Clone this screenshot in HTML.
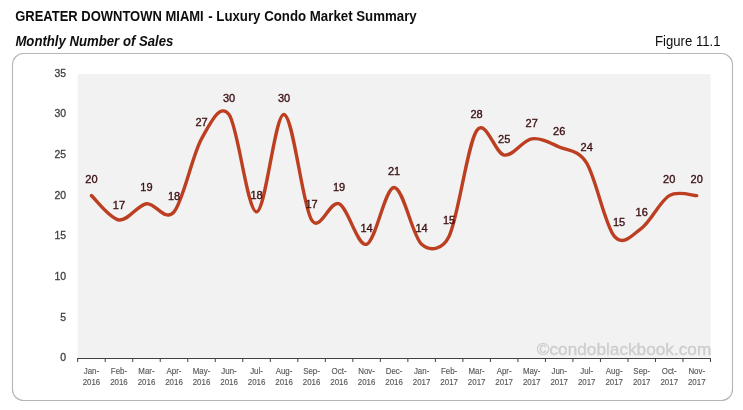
<!DOCTYPE html>
<html><head><meta charset="utf-8"><style>
html,body{margin:0;padding:0;background:#fff;}
body{width:743px;height:410px;position:relative;overflow:hidden;font-family:"Liberation Sans",sans-serif;}
</style></head><body>
<svg width="743" height="410" viewBox="0 0 743 410" style="position:absolute;left:0;top:0;will-change:transform">
<text x="15.2" y="20.9" font-family="Liberation Sans" font-size="14.1" font-weight="bold" fill="#0d0d0d" textLength="188.5" lengthAdjust="spacingAndGlyphs">GREATER DOWNTOWN MIAMI</text>
<text x="208.2" y="20.9" font-family="Liberation Sans" font-size="14.1" font-weight="bold" fill="#0d0d0d" textLength="208.5" lengthAdjust="spacingAndGlyphs">- Luxury Condo Market Summary</text>
<text x="15.4" y="45.9" font-family="Liberation Sans" font-size="14" font-weight="bold" font-style="italic" fill="#0d0d0d" textLength="158" lengthAdjust="spacingAndGlyphs">Monthly Number of Sales</text>
<text x="655" y="45.9" font-family="Liberation Sans" font-size="14.2" fill="#0d0d0d" textLength="65.5" lengthAdjust="spacingAndGlyphs">Figure 11.1</text>
<rect x="12.5" y="53.5" width="720" height="347" rx="11" ry="11" fill="#fff" stroke="#b6b6b6" stroke-width="1.15"/>
<rect x="77.70" y="74.00" width="632.80" height="283.80" fill="#f2f2f2"/>
<text x="536.8" y="355.3" font-family="Liberation Sans" font-size="17" fill="#cdcdcd" stroke="#cdcdcd" stroke-width="0.35" textLength="174.5" lengthAdjust="spacingAndGlyphs">©condoblackbook.com</text>
<line x1="77.20" y1="358.5" x2="711.00" y2="358.5" stroke="#404040" stroke-width="1.1"/>
<line x1="77.70" y1="358" x2="77.70" y2="362" stroke="#404040" stroke-width="1"/>
<line x1="105.21" y1="358" x2="105.21" y2="362" stroke="#404040" stroke-width="1"/>
<line x1="132.73" y1="358" x2="132.73" y2="362" stroke="#404040" stroke-width="1"/>
<line x1="160.24" y1="358" x2="160.24" y2="362" stroke="#404040" stroke-width="1"/>
<line x1="187.75" y1="358" x2="187.75" y2="362" stroke="#404040" stroke-width="1"/>
<line x1="215.27" y1="358" x2="215.27" y2="362" stroke="#404040" stroke-width="1"/>
<line x1="242.78" y1="358" x2="242.78" y2="362" stroke="#404040" stroke-width="1"/>
<line x1="270.29" y1="358" x2="270.29" y2="362" stroke="#404040" stroke-width="1"/>
<line x1="297.80" y1="358" x2="297.80" y2="362" stroke="#404040" stroke-width="1"/>
<line x1="325.32" y1="358" x2="325.32" y2="362" stroke="#404040" stroke-width="1"/>
<line x1="352.83" y1="358" x2="352.83" y2="362" stroke="#404040" stroke-width="1"/>
<line x1="380.34" y1="358" x2="380.34" y2="362" stroke="#404040" stroke-width="1"/>
<line x1="407.86" y1="358" x2="407.86" y2="362" stroke="#404040" stroke-width="1"/>
<line x1="435.37" y1="358" x2="435.37" y2="362" stroke="#404040" stroke-width="1"/>
<line x1="462.88" y1="358" x2="462.88" y2="362" stroke="#404040" stroke-width="1"/>
<line x1="490.40" y1="358" x2="490.40" y2="362" stroke="#404040" stroke-width="1"/>
<line x1="517.91" y1="358" x2="517.91" y2="362" stroke="#404040" stroke-width="1"/>
<line x1="545.42" y1="358" x2="545.42" y2="362" stroke="#404040" stroke-width="1"/>
<line x1="572.93" y1="358" x2="572.93" y2="362" stroke="#404040" stroke-width="1"/>
<line x1="600.45" y1="358" x2="600.45" y2="362" stroke="#404040" stroke-width="1"/>
<line x1="627.96" y1="358" x2="627.96" y2="362" stroke="#404040" stroke-width="1"/>
<line x1="655.47" y1="358" x2="655.47" y2="362" stroke="#404040" stroke-width="1"/>
<line x1="682.99" y1="358" x2="682.99" y2="362" stroke="#404040" stroke-width="1"/>
<line x1="710.50" y1="358" x2="710.50" y2="362" stroke="#404040" stroke-width="1"/>
<g transform="translate(66.1,0) scale(0.95,1)"><text x="0" y="361.50" text-anchor="end" font-family="Liberation Sans" font-size="11" fill="#404040" stroke="#404040" stroke-width="0.3">0</text></g>
<g transform="translate(66.1,0) scale(0.95,1)"><text x="0" y="320.81" text-anchor="end" font-family="Liberation Sans" font-size="11" fill="#404040" stroke="#404040" stroke-width="0.3">5</text></g>
<g transform="translate(66.1,0) scale(0.95,1)"><text x="0" y="280.13" text-anchor="end" font-family="Liberation Sans" font-size="11" fill="#404040" stroke="#404040" stroke-width="0.3">10</text></g>
<g transform="translate(66.1,0) scale(0.95,1)"><text x="0" y="239.44" text-anchor="end" font-family="Liberation Sans" font-size="11" fill="#404040" stroke="#404040" stroke-width="0.3">15</text></g>
<g transform="translate(66.1,0) scale(0.95,1)"><text x="0" y="198.76" text-anchor="end" font-family="Liberation Sans" font-size="11" fill="#404040" stroke="#404040" stroke-width="0.3">20</text></g>
<g transform="translate(66.1,0) scale(0.95,1)"><text x="0" y="158.07" text-anchor="end" font-family="Liberation Sans" font-size="11" fill="#404040" stroke="#404040" stroke-width="0.3">25</text></g>
<g transform="translate(66.1,0) scale(0.95,1)"><text x="0" y="117.39" text-anchor="end" font-family="Liberation Sans" font-size="11" fill="#404040" stroke="#404040" stroke-width="0.3">30</text></g>
<g transform="translate(66.1,0) scale(0.95,1)"><text x="0" y="76.70" text-anchor="end" font-family="Liberation Sans" font-size="11" fill="#404040" stroke="#404040" stroke-width="0.3">35</text></g>
<g transform="translate(91.46,0) scale(0.920,1)"><text x="0" y="374" text-anchor="middle" font-family="Liberation Sans" font-size="8.60" fill="#595959" stroke="#595959" stroke-width="0.15">Jan-</text><text x="0" y="384.9" text-anchor="middle" font-family="Liberation Sans" font-size="8.60" fill="#595959" stroke="#595959" stroke-width="0.15">2016</text></g>
<g transform="translate(118.97,0) scale(0.920,1)"><text x="0" y="374" text-anchor="middle" font-family="Liberation Sans" font-size="8.60" fill="#595959" stroke="#595959" stroke-width="0.15">Feb-</text><text x="0" y="384.9" text-anchor="middle" font-family="Liberation Sans" font-size="8.60" fill="#595959" stroke="#595959" stroke-width="0.15">2016</text></g>
<g transform="translate(146.48,0) scale(0.920,1)"><text x="0" y="374" text-anchor="middle" font-family="Liberation Sans" font-size="8.60" fill="#595959" stroke="#595959" stroke-width="0.15">Mar-</text><text x="0" y="384.9" text-anchor="middle" font-family="Liberation Sans" font-size="8.60" fill="#595959" stroke="#595959" stroke-width="0.15">2016</text></g>
<g transform="translate(174.00,0) scale(0.920,1)"><text x="0" y="374" text-anchor="middle" font-family="Liberation Sans" font-size="8.60" fill="#595959" stroke="#595959" stroke-width="0.15">Apr-</text><text x="0" y="384.9" text-anchor="middle" font-family="Liberation Sans" font-size="8.60" fill="#595959" stroke="#595959" stroke-width="0.15">2016</text></g>
<g transform="translate(201.51,0) scale(0.920,1)"><text x="0" y="374" text-anchor="middle" font-family="Liberation Sans" font-size="8.60" fill="#595959" stroke="#595959" stroke-width="0.15">May-</text><text x="0" y="384.9" text-anchor="middle" font-family="Liberation Sans" font-size="8.60" fill="#595959" stroke="#595959" stroke-width="0.15">2016</text></g>
<g transform="translate(229.02,0) scale(0.920,1)"><text x="0" y="374" text-anchor="middle" font-family="Liberation Sans" font-size="8.60" fill="#595959" stroke="#595959" stroke-width="0.15">Jun-</text><text x="0" y="384.9" text-anchor="middle" font-family="Liberation Sans" font-size="8.60" fill="#595959" stroke="#595959" stroke-width="0.15">2016</text></g>
<g transform="translate(256.53,0) scale(0.920,1)"><text x="0" y="374" text-anchor="middle" font-family="Liberation Sans" font-size="8.60" fill="#595959" stroke="#595959" stroke-width="0.15">Jul-</text><text x="0" y="384.9" text-anchor="middle" font-family="Liberation Sans" font-size="8.60" fill="#595959" stroke="#595959" stroke-width="0.15">2016</text></g>
<g transform="translate(284.05,0) scale(0.920,1)"><text x="0" y="374" text-anchor="middle" font-family="Liberation Sans" font-size="8.60" fill="#595959" stroke="#595959" stroke-width="0.15">Aug-</text><text x="0" y="384.9" text-anchor="middle" font-family="Liberation Sans" font-size="8.60" fill="#595959" stroke="#595959" stroke-width="0.15">2016</text></g>
<g transform="translate(311.56,0) scale(0.920,1)"><text x="0" y="374" text-anchor="middle" font-family="Liberation Sans" font-size="8.60" fill="#595959" stroke="#595959" stroke-width="0.15">Sep-</text><text x="0" y="384.9" text-anchor="middle" font-family="Liberation Sans" font-size="8.60" fill="#595959" stroke="#595959" stroke-width="0.15">2016</text></g>
<g transform="translate(339.07,0) scale(0.920,1)"><text x="0" y="374" text-anchor="middle" font-family="Liberation Sans" font-size="8.60" fill="#595959" stroke="#595959" stroke-width="0.15">Oct-</text><text x="0" y="384.9" text-anchor="middle" font-family="Liberation Sans" font-size="8.60" fill="#595959" stroke="#595959" stroke-width="0.15">2016</text></g>
<g transform="translate(366.59,0) scale(0.920,1)"><text x="0" y="374" text-anchor="middle" font-family="Liberation Sans" font-size="8.60" fill="#595959" stroke="#595959" stroke-width="0.15">Nov-</text><text x="0" y="384.9" text-anchor="middle" font-family="Liberation Sans" font-size="8.60" fill="#595959" stroke="#595959" stroke-width="0.15">2016</text></g>
<g transform="translate(394.10,0) scale(0.920,1)"><text x="0" y="374" text-anchor="middle" font-family="Liberation Sans" font-size="8.60" fill="#595959" stroke="#595959" stroke-width="0.15">Dec-</text><text x="0" y="384.9" text-anchor="middle" font-family="Liberation Sans" font-size="8.60" fill="#595959" stroke="#595959" stroke-width="0.15">2016</text></g>
<g transform="translate(421.61,0) scale(0.920,1)"><text x="0" y="374" text-anchor="middle" font-family="Liberation Sans" font-size="8.60" fill="#595959" stroke="#595959" stroke-width="0.15">Jan-</text><text x="0" y="384.9" text-anchor="middle" font-family="Liberation Sans" font-size="8.60" fill="#595959" stroke="#595959" stroke-width="0.15">2017</text></g>
<g transform="translate(449.13,0) scale(0.920,1)"><text x="0" y="374" text-anchor="middle" font-family="Liberation Sans" font-size="8.60" fill="#595959" stroke="#595959" stroke-width="0.15">Feb-</text><text x="0" y="384.9" text-anchor="middle" font-family="Liberation Sans" font-size="8.60" fill="#595959" stroke="#595959" stroke-width="0.15">2017</text></g>
<g transform="translate(476.64,0) scale(0.920,1)"><text x="0" y="374" text-anchor="middle" font-family="Liberation Sans" font-size="8.60" fill="#595959" stroke="#595959" stroke-width="0.15">Mar-</text><text x="0" y="384.9" text-anchor="middle" font-family="Liberation Sans" font-size="8.60" fill="#595959" stroke="#595959" stroke-width="0.15">2017</text></g>
<g transform="translate(504.15,0) scale(0.920,1)"><text x="0" y="374" text-anchor="middle" font-family="Liberation Sans" font-size="8.60" fill="#595959" stroke="#595959" stroke-width="0.15">Apr-</text><text x="0" y="384.9" text-anchor="middle" font-family="Liberation Sans" font-size="8.60" fill="#595959" stroke="#595959" stroke-width="0.15">2017</text></g>
<g transform="translate(531.67,0) scale(0.920,1)"><text x="0" y="374" text-anchor="middle" font-family="Liberation Sans" font-size="8.60" fill="#595959" stroke="#595959" stroke-width="0.15">May-</text><text x="0" y="384.9" text-anchor="middle" font-family="Liberation Sans" font-size="8.60" fill="#595959" stroke="#595959" stroke-width="0.15">2017</text></g>
<g transform="translate(559.18,0) scale(0.920,1)"><text x="0" y="374" text-anchor="middle" font-family="Liberation Sans" font-size="8.60" fill="#595959" stroke="#595959" stroke-width="0.15">Jun-</text><text x="0" y="384.9" text-anchor="middle" font-family="Liberation Sans" font-size="8.60" fill="#595959" stroke="#595959" stroke-width="0.15">2017</text></g>
<g transform="translate(586.69,0) scale(0.920,1)"><text x="0" y="374" text-anchor="middle" font-family="Liberation Sans" font-size="8.60" fill="#595959" stroke="#595959" stroke-width="0.15">Jul-</text><text x="0" y="384.9" text-anchor="middle" font-family="Liberation Sans" font-size="8.60" fill="#595959" stroke="#595959" stroke-width="0.15">2017</text></g>
<g transform="translate(614.20,0) scale(0.920,1)"><text x="0" y="374" text-anchor="middle" font-family="Liberation Sans" font-size="8.60" fill="#595959" stroke="#595959" stroke-width="0.15">Aug-</text><text x="0" y="384.9" text-anchor="middle" font-family="Liberation Sans" font-size="8.60" fill="#595959" stroke="#595959" stroke-width="0.15">2017</text></g>
<g transform="translate(641.72,0) scale(0.920,1)"><text x="0" y="374" text-anchor="middle" font-family="Liberation Sans" font-size="8.60" fill="#595959" stroke="#595959" stroke-width="0.15">Sep-</text><text x="0" y="384.9" text-anchor="middle" font-family="Liberation Sans" font-size="8.60" fill="#595959" stroke="#595959" stroke-width="0.15">2017</text></g>
<g transform="translate(669.23,0) scale(0.920,1)"><text x="0" y="374" text-anchor="middle" font-family="Liberation Sans" font-size="8.60" fill="#595959" stroke="#595959" stroke-width="0.15">Oct-</text><text x="0" y="384.9" text-anchor="middle" font-family="Liberation Sans" font-size="8.60" fill="#595959" stroke="#595959" stroke-width="0.15">2017</text></g>
<g transform="translate(696.74,0) scale(0.920,1)"><text x="0" y="374" text-anchor="middle" font-family="Liberation Sans" font-size="8.60" fill="#595959" stroke="#595959" stroke-width="0.15">Nov-</text><text x="0" y="384.9" text-anchor="middle" font-family="Liberation Sans" font-size="8.60" fill="#595959" stroke="#595959" stroke-width="0.15">2017</text></g>
<path d="M91.46,195.63 C96.04,199.68 109.80,218.60 118.97,219.95 C128.14,221.31 137.31,205.09 146.48,203.74 C155.65,202.39 164.82,222.66 174.00,211.85 C183.17,201.03 192.34,155.09 201.51,138.87 C210.55,122.88 219.85,102.38 229.02,114.54 C238.19,126.71 247.36,211.85 256.53,211.85 C265.71,211.85 274.88,113.19 284.05,114.54 C293.22,115.89 302.39,205.09 311.56,219.95 C319.95,233.54 329.90,199.68 339.07,203.74 C348.24,207.79 357.42,246.98 366.59,244.28 C375.76,241.58 384.93,187.52 394.10,187.52 C403.27,187.52 412.44,236.17 421.61,244.28 C430.78,252.39 442.87,249.08 449.13,236.17 C458.30,217.25 467.47,144.27 476.64,130.76 C485.81,117.25 494.98,153.73 504.15,155.09 C513.32,156.44 522.49,140.22 531.67,138.87 C540.84,137.52 550.01,142.92 559.18,146.98 C568.35,151.03 578.31,149.60 586.69,163.19 C595.86,178.06 605.03,225.36 614.20,236.17 C623.38,246.98 632.55,234.82 641.72,228.06 C650.89,221.31 660.06,201.03 669.23,195.63 C678.40,190.22 692.16,195.63 696.74,195.63" fill="none" stroke="#bc3f22" stroke-width="3.4" stroke-linecap="round" stroke-linejoin="round"/>
<text x="91.46" y="183.13" text-anchor="middle" font-family="Liberation Sans" font-size="11" fill="#3c1113" stroke="#3c1113" stroke-width="0.35">20</text>
<text x="118.97" y="208.65" text-anchor="middle" font-family="Liberation Sans" font-size="11" fill="#3c1113" stroke="#3c1113" stroke-width="0.35">17</text>
<text x="146.48" y="191.24" text-anchor="middle" font-family="Liberation Sans" font-size="11" fill="#3c1113" stroke="#3c1113" stroke-width="0.35">19</text>
<text x="174.00" y="200.15" text-anchor="middle" font-family="Liberation Sans" font-size="11" fill="#3c1113" stroke="#3c1113" stroke-width="0.35">18</text>
<text x="201.51" y="126.37" text-anchor="middle" font-family="Liberation Sans" font-size="11" fill="#3c1113" stroke="#3c1113" stroke-width="0.35">27</text>
<text x="229.02" y="102.04" text-anchor="middle" font-family="Liberation Sans" font-size="11" fill="#3c1113" stroke="#3c1113" stroke-width="0.35">30</text>
<text x="256.53" y="199.35" text-anchor="middle" font-family="Liberation Sans" font-size="11" fill="#3c1113" stroke="#3c1113" stroke-width="0.35">18</text>
<text x="284.05" y="102.04" text-anchor="middle" font-family="Liberation Sans" font-size="11" fill="#3c1113" stroke="#3c1113" stroke-width="0.35">30</text>
<text x="311.56" y="208.45" text-anchor="middle" font-family="Liberation Sans" font-size="11" fill="#3c1113" stroke="#3c1113" stroke-width="0.35">17</text>
<text x="339.07" y="191.24" text-anchor="middle" font-family="Liberation Sans" font-size="11" fill="#3c1113" stroke="#3c1113" stroke-width="0.35">19</text>
<text x="366.59" y="232.28" text-anchor="middle" font-family="Liberation Sans" font-size="11" fill="#3c1113" stroke="#3c1113" stroke-width="0.35">14</text>
<text x="394.10" y="175.02" text-anchor="middle" font-family="Liberation Sans" font-size="11" fill="#3c1113" stroke="#3c1113" stroke-width="0.35">21</text>
<text x="421.61" y="231.78" text-anchor="middle" font-family="Liberation Sans" font-size="11" fill="#3c1113" stroke="#3c1113" stroke-width="0.35">14</text>
<text x="449.13" y="223.97" text-anchor="middle" font-family="Liberation Sans" font-size="11" fill="#3c1113" stroke="#3c1113" stroke-width="0.35">15</text>
<text x="476.64" y="118.26" text-anchor="middle" font-family="Liberation Sans" font-size="11" fill="#3c1113" stroke="#3c1113" stroke-width="0.35">28</text>
<text x="504.15" y="142.89" text-anchor="middle" font-family="Liberation Sans" font-size="11" fill="#3c1113" stroke="#3c1113" stroke-width="0.35">25</text>
<text x="531.67" y="126.97" text-anchor="middle" font-family="Liberation Sans" font-size="11" fill="#3c1113" stroke="#3c1113" stroke-width="0.35">27</text>
<text x="559.18" y="135.48" text-anchor="middle" font-family="Liberation Sans" font-size="11" fill="#3c1113" stroke="#3c1113" stroke-width="0.35">26</text>
<text x="586.69" y="150.99" text-anchor="middle" font-family="Liberation Sans" font-size="11" fill="#3c1113" stroke="#3c1113" stroke-width="0.35">24</text>
<text x="619.10" y="226.47" text-anchor="middle" font-family="Liberation Sans" font-size="11" fill="#3c1113" stroke="#3c1113" stroke-width="0.35">15</text>
<text x="641.72" y="215.56" text-anchor="middle" font-family="Liberation Sans" font-size="11" fill="#3c1113" stroke="#3c1113" stroke-width="0.35">16</text>
<text x="669.23" y="183.13" text-anchor="middle" font-family="Liberation Sans" font-size="11" fill="#3c1113" stroke="#3c1113" stroke-width="0.35">20</text>
<text x="696.74" y="183.13" text-anchor="middle" font-family="Liberation Sans" font-size="11" fill="#3c1113" stroke="#3c1113" stroke-width="0.35">20</text>
</svg>
</body></html>
